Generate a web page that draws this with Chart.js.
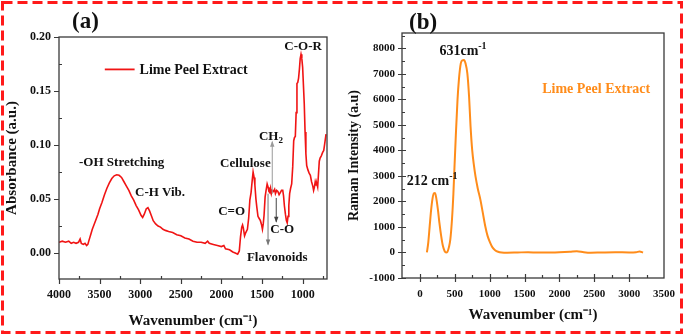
<!DOCTYPE html>
<html>
<head>
<meta charset="utf-8">
<script src="https://cdn.jsdelivr.net/npm/chart.js@4.4.1/dist/chart.umd.min.js"></script>
<style>
  html, body { margin: 0; padding: 0; background: #fff; }
  #wrap { position: relative; width: 685px; height: 336px; overflow: hidden; }
  #ca { position: absolute; left: 0; top: 0; }
  #cb { position: absolute; left: 343px; top: 0; }
  .plab { position: absolute; font: bold 23px "Liberation Serif", serif; color: #111; }
  #frame { position: absolute; left: 0; top: 0; pointer-events: none; }
</style>
</head>
<body>
<div id="wrap">
  <canvas id="ca" width="343" height="336"></canvas>
  <canvas id="cb" width="342" height="336"></canvas>
  <div class="plab" style="left:72px; top:8px;">(a)</div>
  <div class="plab" style="left:409px; top:9px;">(b)</div>
  <svg id="frame" width="685" height="336">
    <rect x="2.5" y="2.5" width="679" height="330" fill="none" stroke="#ff1a1a" stroke-width="3" stroke-dasharray="10 5"/>
  </svg>
</div>
<script>
// ---- (a) FTIR spectrum ----
const irWavenumber = [4000,3960,3920,3880,3850,3820,3790,3760,3740,3725,3700,3680,3660,3645,3630,3610,3590,3570,3550,3520,3500,3470,3440,3410,3380,3350,3320,3290,3260,3230,3200,3170,3140,3110,3080,3050,3020,2990,2970,2950,2925,2905,2885,2860,2840,2810,2780,2750,2720,2690,2650,2600,2550,2500,2450,2400,2350,2300,2250,2200,2170,2150,2100,2050,2000,1970,1950,1900,1860,1830,1800,1780,1765,1750,1740,1730,1715,1700,1680,1665,1650,1635,1620,1610,1598,1588,1575,1565,1550,1535,1520,1505,1495,1485,1475,1462,1450,1437,1425,1415,1405,1395,1385,1375,1360,1345,1335,1320,1305,1290,1275,1260,1245,1235,1225,1212,1200,1190,1180,1170,1160,1148,1135,1122,1110,1100,1090,1080,1070,1060,1050,1040,1030,1020,1010,1000,990,980,970,960,950,935,920,905,890,875,865,855,845,835,825,815,805,795,785,770,755,740,725,712];
const irAbsorbance = [0.010,0.011,0.010,0.011,0.009,0.010,0.009,0.010,0.013,0.009,0.008,0.009,0.007,0.008,0.012,0.017,0.022,0.026,0.030,0.036,0.041,0.047,0.054,0.060,0.065,0.069,0.0715,0.0725,0.072,0.070,0.066,0.062,0.058,0.053,0.049,0.044,0.040,0.035,0.033,0.036,0.041,0.042,0.039,0.034,0.030,0.027,0.025,0.024,0.022,0.021,0.020,0.019,0.017,0.016,0.014,0.013,0.011,0.010,0.010,0.009,0.011,0.009,0.008,0.007,0.006,0.007,0.004,0.003,0.001,0.000,-0.001,0.002,0.015,0.024,0.026,0.023,0.016,0.019,0.022,0.032,0.049,0.056,0.068,0.075,0.070,0.063,0.050,0.043,0.034,0.032,0.030,0.026,0.022,0.027,0.035,0.052,0.058,0.064,0.061,0.057,0.056,0.060,0.055,0.058,0.057,0.059,0.055,0.058,0.057,0.054,0.056,0.058,0.058,0.053,0.044,0.036,0.030,0.028,0.034,0.044,0.055,0.060,0.064,0.080,0.104,0.107,0.108,0.130,0.157,0.158,0.162,0.170,0.180,0.184,0.180,0.172,0.155,0.138,0.112,0.092,0.081,0.077,0.074,0.072,0.066,0.062,0.058,0.061,0.066,0.063,0.064,0.061,0.073,0.085,0.088,0.090,0.093,0.095,0.103,0.110];
const irXTicks = [4000,3500,3000,2500,2000,1500,1000];
const irXMinor = [3750,3250,2750,2250,1750,1250,750];
const irYTicks = [0.00,0.05,0.10,0.15,0.20];
const irYMinor = [-0.025,0.025,0.075,0.125,0.175];
const irLabels = [
  {text:[['-OH Stretching']], x:3228, y:0.0838},
  {text:[['C-H Vib.']], x:2756, y:0.0557},
  {text:[['C=O']], x:1874, y:0.038},
  {text:[['Cellulose']], x:1705, y:0.0828},
  {text:[['CH'],['2','sub']], x:1390, y:0.108},
  {text:[['C-O']], x:1251, y:0.0216},
  {text:[['Flavonoids']], x:1313, y:-0.004},
  {text:[['C-O-R']], x:994, y:0.1907}
];
const irArrows = [
  {x:1374, from:0.055, to:0.103, color:'#9a9a9a'},
  {x:1426, from:0.055, to:0.008, color:'#777'},
  {x:1325, from:0.051, to:0.029, color:'#444'}
];

// ---- (b) Raman spectrum ----
const ramanShift = [100,120,140,160,180,200,215,230,258,280,305,330,355,375,395,415,436,460,480,492,515,539,560,586,610,631,655,680,705,726,750,775,797,830,867,900,937,970,1008,1040,1078,1120,1172,1250,1400,1550,1700,1850,2000,2150,2250,2350,2450,2600,2800,3000,3100,3150,3200];
const ramanIntensity = [0,400,1030,1650,2100,2320,2330,2200,1680,1150,640,250,50,0,30,200,510,1300,2300,3110,4600,5980,6800,7410,7530,7540,7400,7020,6100,4940,4000,3400,2980,2500,2070,1580,1030,650,380,200,90,30,0,-10,0,10,-5,0,10,30,50,10,-10,0,10,0,10,40,0];
const ramanXTicks = [0,500,1000,1500,2000,2500,3000,3500];
const ramanXMinor = [250,750,1250,1750,2250,2750,3250];
const ramanYTicks = [-1000,0,1000,2000,3000,4000,5000,6000,7000,8000];
const ramanYMinor = [-500,500,1500,2500,3500,4500,5500,6500,7500,8500];
const ramanLabels = [
  {text:[['631cm'],['-1','sup']], x:618, y:7867, size:14},
  {text:[['212 cm'],['-1','sup']], x:176, y:2789, size:14},
  {text:[['Lime Peel Extract']], x:2528, y:6371, color:'#ff8c1a', size:14}
];

const AXIS = '#3a3a3a';
const SERIF = '"Liberation Serif", "Times New Roman", serif';

function drawRich(ctx, parts, cx, cy, size, color) {
  ctx.fillStyle = color;
  ctx.textBaseline = 'middle';
  ctx.textAlign = 'left';
  let w = 0;
  const fonts = parts.map(p => p[1] ? 'bold ' + Math.round(size * 0.68) + 'px ' + SERIF : 'bold ' + size + 'px ' + SERIF);
  parts.forEach((p, i) => { ctx.font = fonts[i]; w += ctx.measureText(p[0]).width; });
  let px = cx - w / 2;
  parts.forEach((p, i) => {
    ctx.font = fonts[i];
    let dy = p[1] === 'sup' ? -size * 0.35 : p[1] === 'sub' ? size * 0.3 : 0;
    ctx.fillText(p[0], px, cy + dy);
    px += ctx.measureText(p[0]).width;
  });
}

const decor = {
  id: 'decor',
  afterDatasetsDraw(chart, args, o) {
    const ctx = chart.ctx, a = chart.chartArea, x = chart.scales.x, y = chart.scales.y;
    ctx.save();
    ctx.strokeStyle = AXIS;
    ctx.lineWidth = 1.3;
    ctx.strokeRect(a.left, a.top, a.right - a.left, a.bottom - a.top);
    ctx.lineWidth = 1.2;
    ctx.beginPath();
    o.xMajor.forEach(v => { const p = Math.round(x.getPixelForValue(v)) + 0.5; ctx.moveTo(p, a.bottom - o.majIn); ctx.lineTo(p, a.bottom + o.majOut); });
    o.yMajor.forEach(v => { const p = Math.round(y.getPixelForValue(v)) + 0.5; ctx.moveTo(a.left + o.majIn, p); ctx.lineTo(a.left - o.majOut, p); });
    o.xMinor.forEach(v => { const p = Math.round(x.getPixelForValue(v)) + 0.5; if (p > a.left + 1 && p < a.right - 1) { ctx.moveTo(p, a.bottom); ctx.lineTo(p, a.bottom - 3); } });
    o.yMinor.forEach(v => { const p = Math.round(y.getPixelForValue(v)) + 0.5; if (p > a.top + 1 && p < a.bottom - 1) { ctx.moveTo(a.left, p); ctx.lineTo(a.left + 3, p); } });
    ctx.stroke();

    (o.arrows || []).forEach(ar => {
      const px = x.getPixelForValue(ar.x), p1 = y.getPixelForValue(ar.from), p2 = y.getPixelForValue(ar.to);
      ctx.strokeStyle = ar.color; ctx.fillStyle = ar.color; ctx.lineWidth = 1;
      ctx.beginPath(); ctx.moveTo(px, p1); ctx.lineTo(px, p2); ctx.stroke();
      const d = p2 < p1 ? -1 : 1;
      ctx.beginPath(); ctx.moveTo(px, p2 + d * 1); ctx.lineTo(px - 2.2, p2 - d * 5); ctx.lineTo(px + 2.2, p2 - d * 5); ctx.closePath(); ctx.fill();
    });

    if (o.legend) {
      const lg = o.legend;
      ctx.strokeStyle = lg.color; ctx.lineWidth = 1.8;
      const ly = y.getPixelForValue(lg.y);
      ctx.beginPath(); ctx.moveTo(x.getPixelForValue(lg.x1), ly); ctx.lineTo(x.getPixelForValue(lg.x2), ly); ctx.stroke();
      ctx.font = 'bold 14px ' + SERIF; ctx.fillStyle = '#111'; ctx.textAlign = 'left'; ctx.textBaseline = 'middle';
      ctx.fillText(lg.text, x.getPixelForValue(lg.x2) + 5, ly + 1);
    }

    o.labels.forEach(l => drawRich(ctx, l.text, x.getPixelForValue(l.x), y.getPixelForValue(l.y), l.size || 13, l.color || '#111'));
    ctx.restore();
  }
};

function scaleFont(size) { return { family: SERIF, weight: 'bold', size: size }; }

function makeChart(id, cfg) {
  return new Chart(document.getElementById(id), {
    type: 'line',
    data: { datasets: [{ data: cfg.xs.map((v, i) => ({ x: v, y: cfg.ys[i] })), borderColor: cfg.color, borderWidth: cfg.lw, pointRadius: 0, tension: cfg.tension, cubicInterpolationMode: cfg.cubic, fill: false }] },
    options: {
      responsive: false, animation: false, devicePixelRatio: 1,
      layout: { padding: { top: cfg.top, right: cfg.right, left: 0, bottom: 0 } },
      plugins: { legend: { display: false }, tooltip: { enabled: false }, decor: cfg.decor },
      scales: {
        x: {
          type: 'linear', min: cfg.xMin, max: cfg.xMax, reverse: cfg.reverse,
          grid: { display: false, drawTicks: false }, border: { display: false },
          afterBuildTicks: s => { s.ticks = cfg.xTicks.map(v => ({ value: v })); },
          afterFit: s => { s.height = cfg.xH; },
          ticks: { color: '#111', font: scaleFont(cfg.tickSize), padding: cfg.xPad, maxRotation: 0, autoSkip: false, callback: v => String(v) },
          title: { display: true, text: 'Wavenumber (cm\u207B\u00B9)', color: '#111', font: scaleFont(15), padding: { top: 0, bottom: cfg.titleBottom } }
        },
        y: {
          type: 'linear', min: cfg.yMin, max: cfg.yMax,
          grid: { display: false, drawTicks: false }, border: { display: false },
          afterBuildTicks: s => { s.ticks = cfg.yTicks.map(v => ({ value: v })); },
          afterFit: s => { s.width = cfg.yW; },
          ticks: { color: '#111', font: scaleFont(cfg.tickSize), padding: cfg.yPad, autoSkip: false, callback: cfg.yFmt },
          title: { display: true, text: cfg.yTitle, color: '#111', font: scaleFont(cfg.yTitleSize), padding: { top: cfg.yTitleShift, bottom: 0 } }
        }
      }
    },
    plugins: [decor]
  });
}

makeChart('ca', {
  xs: irWavenumber, ys: irAbsorbance, color: '#f01414', lw: 1.6, tension: 0, cubic: 'default',
  top: 37, right: 16, xH: 57, yW: 59, xMin: 700, xMax: 4000, reverse: true, yMin: -0.024, yMax: 0.2,
  xTicks: irXTicks, yTicks: irYTicks, tickSize: 12, xPad: 9, yPad: 8, titleBottom: 6,
  yFmt: v => v.toFixed(2), yTitle: 'Absorbance (a.u.)', yTitleSize: 15, yTitleShift: 3,
  decor: { xMajor: irXTicks, yMajor: irYTicks, xMinor: irXMinor, yMinor: irYMinor, majIn: 0, majOut: 5,
    labels: irLabels, arrows: irArrows,
    legend: { x1: 3436, x2: 3069, y: 0.170, text: 'Lime Peel Extract', color: '#f01414' } }
});

makeChart('cb', {
  xs: ramanShift, ys: ramanIntensity, color: '#ff8c1a', lw: 2, tension: 0.4, cubic: 'monotone',
  top: 33, right: 15, xH: 58, yW: 59, xMin: -257, xMax: 3500, reverse: false, yMin: -1000, yMax: 8600,
  xTicks: ramanXTicks, yTicks: ramanYTicks, tickSize: 11, xPad: 10, yPad: 7, titleBottom: 12,
  yFmt: v => String(v), yTitle: 'Raman Intensity (a.u)', yTitleSize: 14, yTitleShift: 3,
  decor: { xMajor: ramanXTicks.filter(v => v < 3500), yMajor: ramanYTicks, xMinor: ramanXMinor, yMinor: ramanYMinor, majIn: 4, majOut: 4,
    labels: ramanLabels }
});
</script>
</body>
</html>
